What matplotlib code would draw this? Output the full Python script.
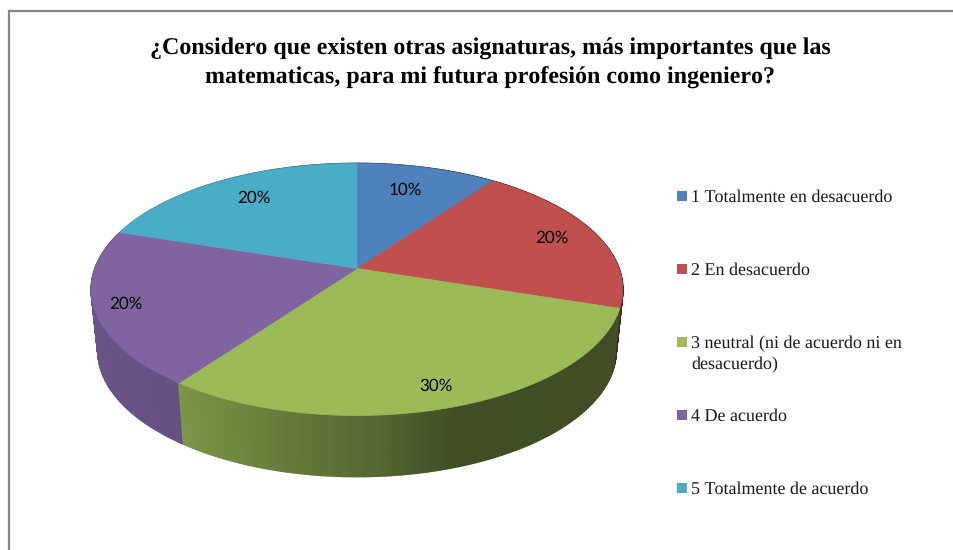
import matplotlib
matplotlib.use("Agg")
import matplotlib.pyplot as plt
from matplotlib.colors import to_rgb
import numpy as np

plt.rcParams["text.hinting"] = "no_hinting"
plt.rcParams["text.hinting_factor"] = 1

title = "¿Considero que existen otras asignaturas, más importantes que las\nmatematicas, para mi futura profesión como ingeniero?"
categories = ["1 Totalmente en desacuerdo", "2 En desacuerdo", "3 neutral (ni de acuerdo ni en\ndesacuerdo)", "4 De acuerdo", "5 Totalmente de acuerdo"]
values = [10, 20, 30, 20, 20]
colors = ["#4F81BD", "#C0504D", "#9BBB59", "#8064A2", "#4BACC6"]
label_pos = [(405, 190), (552, 238), (436, 386), (126, 304), (254, 198)]
legend_y = [196, 269, 342, 415, 488]

cx, cy = 357, 268.5
rx, ry = 262, 122.5
persp = 1 / 6
depth = 61
shrink = 0.975

# side is darker towards the right, like the excel 3d pie
shade_x = [90, 178, 290, 380, 450, 623]
shade_f = [0.83, 0.80, 0.65, 0.55, 0.42, 0.41]

def rim(theta):
    # angle clockwise from the top, circle seen in perspective
    u, v = np.sin(theta), np.cos(theta)
    w = 1 + persp * v
    return cx + rx * u / w, cy - ry * v / w

fig = plt.figure(figsize=(9.54, 5.5), dpi=100)
ax = fig.add_axes([0, 0, 1, 1])
ax.set_xlim(0, 954)
ax.set_ylim(550, 0)
ax.axis("off")

ax.plot([9, 9, 954], [550, 11, 11], color="#868686", lw=1.6, solid_joinstyle="miter")

ax.text(490, 63, title, ha="center", va="center", fontsize=17.2, fontweight="bold",
        family="Liberation Serif", color="black", linespacing=1.5)

edges = 2 * np.pi * np.cumsum([0] + values) / sum(values)

# side strips, back to front
strips = []
for i in range(len(values)):
    th = np.linspace(edges[i], edges[i + 1], int(values[i] * 6) + 2)
    for a, b in zip(th[:-1], th[1:]):
        strips.append((np.cos((a + b) / 2), a, b, colors[i]))
strips.sort(key=lambda s: -s[0])
for _, a, b, c in strips:
    x0, y0 = rim(a)
    x1, y1 = rim(b)
    f = np.interp((x0 + x1) / 2, shade_x, shade_f)
    col = tuple(f * ch for ch in to_rgb(c))
    bx0 = cx + (x0 - cx) * shrink
    bx1 = cx + (x1 - cx) * shrink
    ax.fill([x0, x1, bx1, bx0], [y0, y1, y1 + depth, y0 + depth], color=col, lw=1.2)

# top face
for i in range(len(values)):
    th = np.linspace(edges[i], edges[i + 1], 200)
    xs, ys = rim(th)
    ax.fill(np.r_[cx, xs], np.r_[cy, ys], color=colors[i], lw=0.5)

for v, (lx, ly) in zip(values, label_pos):
    ax.text(lx, ly, f"{v}%", ha="center", va="center", fontsize=12.5, family="Lato", color="black")

for name, c, y in zip(categories, colors, legend_y):
    ax.add_patch(plt.Rectangle((677, y - 5), 10, 10, color=c, lw=0))
    for k, line in enumerate(name.split("\n")):
        ax.text(691, y + 6 + k * 21, line, ha="left", va="baseline", fontsize=13.3,
                family="Liberation Serif", color="#1a1a1a")

plt.savefig("out.png", dpi=100)
plt.close()
